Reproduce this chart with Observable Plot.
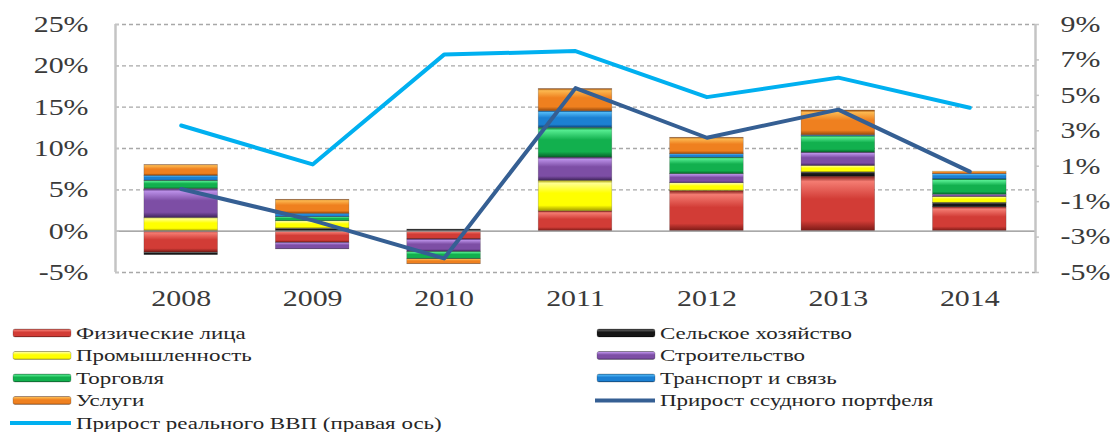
<!DOCTYPE html>
<html><head><meta charset="utf-8">
<script src="https://cdn.jsdelivr.net/npm/d3@7"></script>
<script src="https://cdn.jsdelivr.net/npm/@observablehq/plot@0.6"></script>
<style>
html,body{margin:0;padding:0;background:#fff;}
#chart svg,#legend svg{display:block;}
</style></head><body>
<svg width="0" height="0" style="position:absolute"><defs id="defs"></defs></svg>
<div id="chart"></div>
<div id="legend"></div>
<script>
// ---- data ----
const years = [2008, 2009, 2010, 2011, 2012, 2013, 2014];
const seriesNames = ["Физические лица", "Сельское хозяйство", "Промышленность", "Строительство", "Торговля", "Транспорт и связь", "Услуги"];
const individuals  = [-2.6, -1.4, -1.0, 2.4, 4.85, 6.6, 2.9];
const agriculture  = [-0.3, 0.3, 0.2, 0, 0, 0.5, 0.5];
const industry     = [1.6, 0.9, 0, 3.7, 0.95, 0.8, 0.75];
const construction = [3.5, -0.8, -1.5, 2.8, 1.1, 1.6, 0.25];
const trade        = [1.0, 0.5, -0.9, 3.6, 2.0, 2.0, 1.85];
const transport    = [0.6, 0.4, 0, 2.0, 0.4, 0.1, 0.65];
const services     = [1.3, 1.7, -0.6, 2.7, 2.0, 3.0, 0.3];
const loanGrowth   = [5.1, 1.3, -3.3, 17.3, 11.3, 14.7, 7.2];   // left axis
const gdpGrowth    = [3.3, 1.1, 7.3, 7.5, 4.9, 6.0, 4.3];       // right axis
const leftTicks  = [-5, 0, 5, 10, 15, 20, 25];
const rightTicks = [-5, -3, -1, 1, 3, 5, 7, 9];
const loanName = "Прирост ссудного портфеля";
const gdpName  = "Прирост реального ВВП (правая ось)";

// ---- styles ----
const palette = [
  {base: "#d23c36", light: "#f47c72", dark: "#7a1a16"},
  {base: "#161616", light: "#5c5c5c", dark: "#000000"},
  {base: "#ffff00", light: "#ffff90", dark: "#a09800"},
  {base: "#7d4ea5", light: "#b98ee6", dark: "#40245c"},
  {base: "#12b04e", light: "#55ec90", dark: "#07622a"},
  {base: "#1c80d2", light: "#50b8f6", dark: "#0c4880"},
  {base: "#ef801f", light: "#fcb850", dark: "#96480c"}
];
const defs = d3.select("#defs");
palette.forEach((p, i) => {
  const g = defs.append("linearGradient").attr("id", "g" + i).attr("x1", 0).attr("y1", 0).attr("x2", 0).attr("y2", 1);
  [[0, p.dark], [0.1, p.light], [0.42, p.base], [0.82, p.base], [1, p.dark]].forEach(([o, c]) =>
    g.append("stop").attr("offset", o).attr("stop-color", c));
});

const seriesValues = [individuals, agriculture, industry, construction, trade, transport, services];
const rows = seriesValues.flatMap((vals, s) => vals.map((v, i) => ({year: years[i], series: seriesNames[s], value: v})))
  .filter(d => d.value !== 0);

const rMin = rightTicks[0], rMax = rightTicks[rightTicks.length - 1];
const lMin = leftTicks[0], lMax = leftTicks[leftTicks.length - 1];
const toLeft = v => lMin + (v - rMin) * (lMax - lMin) / (rMax - rMin);

const loanRows = years.map((y, i) => ({year: y, v: loanGrowth[i]}));
const gdpRows = years.map((y, i) => ({year: y, v: toLeft(gdpGrowth[i])}));

const halfBar = 0.28;
const x0 = years[0] - 0.5, x1 = years[years.length - 1] + 0.5;
const font = "'Liberation Serif', 'Times New Roman', serif";

const plot = Plot.plot({
  width: 1113, height: 322,
  marginLeft: 115, marginRight: 78, marginTop: 24, marginBottom: 50,
  x: {domain: [x0, x1], axis: null},
  y: {domain: [lMin, lMax], axis: null},
  color: {domain: seriesNames, range: seriesNames.map((_, i) => `url(#g${i})`)},
  style: {fontFamily: font, background: "white", overflow: "visible"},
  marks: [
    Plot.ruleY(leftTicks.filter(t => t !== 0), {stroke: "#a8a8a8", strokeWidth: 1.3, strokeDasharray: "4,3"}),
    Plot.rectY(rows, {x1: d => d.year - halfBar, x2: d => d.year + halfBar, y: "value", fill: "series",
      stroke: "#333", strokeOpacity: 0.35, strokeWidth: 0.6}),
    Plot.ruleY([0], {stroke: "#8c8c8c", strokeWidth: 1.3}),
    Plot.ruleX([x0, x1], {y1: lMin, y2: lMax, stroke: "#c4c4c4", strokeWidth: 2.5}),
    Plot.ruleY(leftTicks, {x1: x0, x2: x0 + 0.03, stroke: "#c4c4c4", strokeWidth: 1.5}),
    Plot.ruleY(rightTicks.map(toLeft), {x1: x1, x2: x1 + 0.03, stroke: "#c4c4c4", strokeWidth: 1.5}),
    Plot.line(loanRows, {x: "year", y: "v", stroke: "#355f93", strokeWidth: 4}),
    Plot.line(gdpRows, {x: "year", y: "v", stroke: "#00b0f0", strokeWidth: 4}),
    Plot.text(leftTicks, {y: d => d, text: d => d + "%", frameAnchor: "left", textAnchor: "end", dx: -27, fontSize: 23, fill: "#3a3a3a"}),
    Plot.text(rightTicks, {y: d => toLeft(d), text: d => d + "%", frameAnchor: "right", textAnchor: "start", dx: 25, fontSize: 23, fill: "#3a3a3a"}),
    Plot.text(years, {x: d => d, text: d => String(d), frameAnchor: "bottom", dy: 33, fontSize: 23, fill: "#3a3a3a"})
  ]
});
document.getElementById("chart").append(plot);

// ---- legend ----
const legendItems = [
  {name: seriesNames[0], kind: "bar", idx: 0},
  {name: seriesNames[1], kind: "bar", idx: 1},
  {name: seriesNames[2], kind: "bar", idx: 2},
  {name: seriesNames[3], kind: "bar", idx: 3},
  {name: seriesNames[4], kind: "bar", idx: 4},
  {name: seriesNames[5], kind: "bar", idx: 5},
  {name: seriesNames[6], kind: "bar", idx: 6},
  {name: loanName, kind: "line", color: "#355f93"},
  {name: gdpName, kind: "line", color: "#00b0f0"}
];
const lg = d3.create("svg").attr("width", 1113).attr("height", 110).style("font-family", font);
const colX = [13, 597], rowY = [11, 33.5, 56, 78.5, 101];
legendItems.forEach((it, k) => {
  const cx = colX[k % 2], cy = rowY[Math.floor(k / 2)];
  const g = lg.append("g").attr("transform", `translate(${cx},${cy})`);
  if (it.kind === "bar") {
    g.append("rect").attr("x", 0).attr("y", -4).attr("width", 58).attr("height", 8).attr("rx", 2)
      .attr("fill", `url(#g${it.idx})`).attr("stroke", "#333").attr("stroke-opacity", 0.4).attr("stroke-width", 0.6);
  } else {
    g.append("line").attr("x1", k % 2 ? -2 : -3).attr("x2", 58).attr("stroke", it.color).attr("stroke-width", 4);
  }
  g.append("text").attr("x", 63).attr("dy", "0.35em").attr("font-size", 17).attr("fill", "#262626").text(it.name);
});
document.getElementById("legend").append(lg.node());

// horizontal stretch of glyphs as in the reference
function stretch(svg, k) {
  svg.querySelectorAll("text").forEach(t => {
    const len = t.getComputedTextLength();
    if (len > 0) { t.setAttribute("textLength", len * k); t.setAttribute("lengthAdjust", "spacingAndGlyphs"); }
  });
}
stretch(plot, 1.3);
stretch(lg.node(), 1.35);
</script>
</body></html>
